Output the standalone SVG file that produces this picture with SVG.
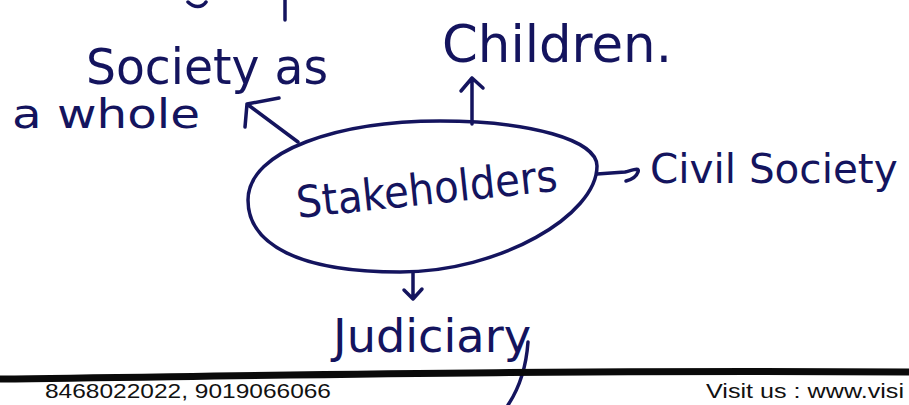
<svg xmlns="http://www.w3.org/2000/svg" width="909" height="405" viewBox="0 0 909 405">
  <style>
    .ink { fill: none; stroke: #14145e; stroke-width: 3.5; stroke-linecap: round; stroke-linejoin: round; }
    .hand { font-family: "DejaVu Sans", "Liberation Sans", sans-serif; fill: #14145e; }
    .foot { font-family: "Liberation Sans", Arial, sans-serif; fill: #111; }
  </style>
  <rect width="909" height="405" fill="#ffffff"/>

  <!-- fragments of the line above -->
  <path class="ink" d="M188,2 C194,8 202,8 206,2"/>
  <path class="ink" d="M285,0 L285,20"/>

  <!-- central node -->
  <g id="stakeholders">
    <path class="ink" d="M248,200 C248,150 340,121 440,121 C530,121 597,140 597,166 C597,215 500,272 400,272 C300,272 248,245 248,200 Z"/>
    <text class="hand" x="298" y="218" font-size="44" textLength="262" lengthAdjust="spacingAndGlyphs" transform="rotate(-6 298 218)">Stakeholders</text>
  </g>

  <g id="society">
    <text class="hand" x="86" y="84" font-size="50" textLength="242" lengthAdjust="spacingAndGlyphs">Society as</text>
    <text class="hand" x="12" y="128" font-size="40" textLength="188" lengthAdjust="spacingAndGlyphs">a whole</text>
  </g>

  <g id="children">
    <text class="hand" x="442" y="62" font-size="52" textLength="230" lengthAdjust="spacingAndGlyphs">Children.</text>
  </g>

  <g id="civil-society">
    <text class="hand" x="650" y="183" font-size="40.5">Civil Society</text>
  </g>

  <g id="judiciary">
    <text class="hand" x="333" y="352" font-size="46" textLength="198" lengthAdjust="spacingAndGlyphs">Judiciary</text>
    <path class="ink" d="M528,342 C526,370 518,390 508,405"/>
  </g>

  <!-- connectors -->
  <g id="connectors">
    <path class="ink" d="M298,142 L247,104 M247,104 L279,98 M247,104 L245,127"/>
    <path class="ink" d="M472,124 L472,78 M472,78 L461,91 M472,78 L483,88"/>
    <path class="ink" d="M597,174 L625,172 C633,170 640,167 638,172 C636,178 630,180 626,181"/>
    <path class="ink" d="M413,272 L413,299 M413,299 L404,290 M413,299 L422,289"/>
  </g>

  <!-- page footer -->
  <path d="M0,379 C250,376 500,370 909,372" fill="none" stroke="#0a0a0a" stroke-width="7"/>
  <text class="foot" x="45" y="398" font-size="21" textLength="286" lengthAdjust="spacingAndGlyphs">8468022022, 9019066066</text>
  <text class="foot" x="706" y="398" font-size="21" textLength="198" lengthAdjust="spacingAndGlyphs">Visit us : www.visi</text>
</svg>
